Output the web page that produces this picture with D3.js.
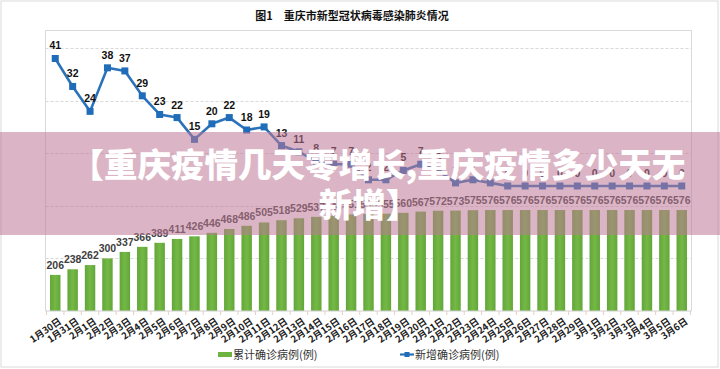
<!DOCTYPE html>
<html><head><meta charset="utf-8">
<script src="https://cdn.jsdelivr.net/npm/d3@7"></script>
<style>
html,body{margin:0;padding:0;background:#fff;}
svg{display:block;}
</style></head>
<body><svg id="c" width="720" height="369"></svg>
<script>
const categories = ["1月30日","1月31日","2月1日","2月2日","2月3日","2月4日","2月5日","2月6日","2月7日","2月8日","2月9日","2月10日","2月11日","2月12日","2月13日","2月14日","2月15日","2月16日","2月17日","2月18日","2月19日","2月20日","2月21日","2月22日","2月23日","2月24日","2月25日","2月26日","2月27日","2月28日","2月29日","3月1日","3月2日","3月3日","3月4日","3月5日","3月6日"];
const cumulative = [206,238,262,300,337,366,389,411,426,446,468,486,505,518,529,537,544,551,553,555,560,567,572,573,575,576,576,576,576,576,576,576,576,576,576,576,576];
const newCases = [41,32,24,38,37,29,23,22,15,20,22,18,19,13,11,8,7,7,2,2,5,7,5,1,2,1,0,0,0,0,0,0,0,0,0,0,0];
const barGridTicks = [300,600,900,1200,1500];
const title = "图1　重庆市新型冠状病毒感染肺炎情况";
const seriesNames = ["累计确诊病例(例)","新增确诊病例(例)"];
const bannerLines = ["【重庆疫情几天零增长,重庆疫情多少天无","新增】"];

const svg = d3.select("#c");
const W = 720, H = 369;
const plot = {left:45.5, right:691.5, top:30.5, bottom:311};
const cjk = "'Noto Sans CJK SC','Noto Sans',sans-serif";

svg.append("rect").attr("x",1).attr("y",1).attr("width",W-3).attr("height",H-3)
  .attr("fill","#fff").attr("stroke","#d9d9d9");

const defs = svg.append("defs");
const g1 = defs.append("linearGradient").attr("id","barG").attr("x1","0").attr("x2","1").attr("y1","0").attr("y2","0");
g1.append("stop").attr("offset","0%").attr("stop-color","#62a63a");
g1.append("stop").attr("offset","50%").attr("stop-color","#74b845");
g1.append("stop").attr("offset","100%").attr("stop-color","#62a63a");

svg.append("text").attr("x",352).attr("y",20).attr("text-anchor","middle")
  .attr("font-family",cjk).attr("font-weight","bold").attr("font-size",11).attr("fill","#111")
  .text(title);

const x = d3.scaleBand().domain(categories).range([plot.left, plot.right]).paddingInner(0.4).paddingOuter(0.26);
const yBar = d3.scaleLinear().domain([0,1600]).range([plot.bottom, plot.top]);
const yLine = d3.scaleLinear().domain([0,50]).range([186, plot.top]);

svg.append("path").attr("d",`M${plot.left},${plot.bottom}V${plot.top}H${plot.right}V${plot.bottom}`)
  .attr("fill","none").attr("stroke","#d9d9d9");

svg.append("g").selectAll("line").data(barGridTicks).join("line")
  .attr("x1",plot.left).attr("x2",plot.right)
  .attr("y1",d=>Math.round(yBar(d))+0.5).attr("y2",d=>Math.round(yBar(d))+0.5)
  .attr("stroke","#d9d9d9").attr("stroke-dasharray","3,2");

svg.append("g").selectAll("rect").data(cumulative).join("rect")
  .attr("x",(d,i)=>x(categories[i])).attr("width",x.bandwidth())
  .attr("y",d=>yBar(d)).attr("height",d=>yBar(0)-yBar(d))
  .attr("fill","url(#barG)");

svg.append("g").selectAll("text").data(cumulative).join("text")
  .attr("x",(d,i)=>x(categories[i])+x.bandwidth()/2)
  .attr("y",d=>yBar(d)-6)
  .attr("text-anchor","middle").attr("font-family","'Liberation Sans',Arial,sans-serif")
  .attr("font-size",10.5).attr("font-weight","bold").attr("fill","#404040")
  .text(d=>d);

const xAxis = svg.append("g").attr("transform",`translate(0,${plot.bottom})`);
xAxis.append("line").attr("x1",plot.left).attr("x2",plot.right).attr("stroke","#d0d0d0");
const step = x.step();
xAxis.selectAll("line.t").data(categories.concat(["_end"])).join("line").attr("class","t")
  .attr("x1",(d,i)=>x(categories[0]) - step*0.2 + i*step).attr("x2",(d,i)=>x(categories[0]) - step*0.2 + i*step)
  .attr("y1",0).attr("y2",4).attr("stroke","#e5cfc0");
xAxis.selectAll("text").data(categories).join("text")
  .attr("transform",d=>`translate(${x(d)+x.bandwidth()/2+5},9) rotate(-35)`)
  .attr("text-anchor","end").attr("font-family",cjk).attr("font-weight","bold")
  .attr("font-size",9.5).attr("fill","#222").attr("dy","0.35em")
  .text(d=>d);

const line = d3.line().x((d,i)=>x(categories[i])+x.bandwidth()/2).y(d=>yLine(d));
svg.append("path").datum(newCases).attr("d",line).attr("fill","none")
  .attr("stroke","#2a72ba").attr("stroke-width",2.6).attr("stroke-linejoin","round");
svg.append("g").selectAll("rect").data(newCases).join("rect")
  .attr("x",(d,i)=>x(categories[i])+x.bandwidth()/2-3.5).attr("y",d=>yLine(d)-3.5)
  .attr("width",7).attr("height",7).attr("fill","#1f6cb8");
svg.append("g").selectAll("text").data(newCases).join("text")
  .attr("x",(d,i)=>x(categories[i])+x.bandwidth()/2)
  .attr("y",d=>yLine(d)-9)
  .attr("text-anchor","middle").attr("font-family","'Liberation Sans',Arial,sans-serif")
  .attr("font-size",10.5).attr("font-weight","bold").attr("fill","#111")
  .text(d=>d);

const lg = svg.append("g");
lg.append("rect").attr("x",218).attr("y",352).attr("width",14).attr("height",5).attr("fill","#6db33f");
lg.append("text").attr("x",233).attr("y",355).attr("dy","0.35em").attr("font-family",cjk)
  .attr("font-size",11).attr("fill","#333").text(seriesNames[0]);
lg.append("line").attr("x1",400).attr("x2",414).attr("y1",354.5).attr("y2",354.5).attr("stroke","#2a72ba").attr("stroke-width",2.2);
lg.append("rect").attr("x",404.5).attr("y",352).attr("width",5).attr("height",5).attr("fill","#1f6cb8");
lg.append("text").attr("x",415).attr("y",355).attr("dy","0.35em").attr("font-family",cjk)
  .attr("font-size",11).attr("fill","#333").text(seriesNames[1]);

svg.append("rect").attr("x",0).attr("y",132).attr("width",W).attr("height",103)
  .attr("fill","rgb(190,120,150)").attr("fill-opacity",0.55);
svg.append("g").selectAll("text").data(bannerLines).join("text")
  .attr("x",(d,i)=>i===0?378:369).attr("y",(d,i)=>165+i*40).attr("dy","0.36em")
  .attr("text-anchor","middle").attr("font-family",cjk).attr("font-weight","900")
  .attr("font-size",33.5).attr("fill","#fff")
  .text(d=>d);
</script>
</body></html>
